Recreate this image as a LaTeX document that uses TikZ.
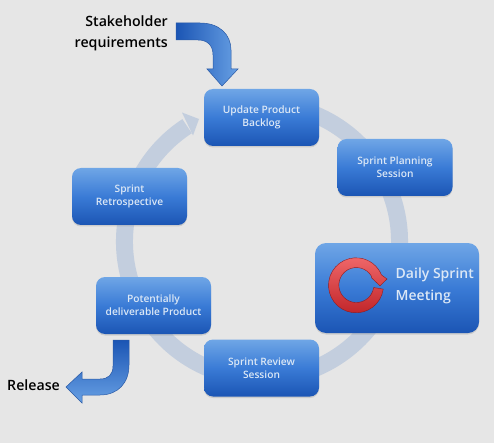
\documentclass[tikz,border=0pt]{standalone}
\usepackage{fontspec}
\setmainfont{Open Sans}
\newfontfamily\medfont{Open Sans}[UprightFont=* Semibold]
\usetikzlibrary{shadows}
\definecolor{bg}{HTML}{E6E6E6}
\definecolor{ringc}{HTML}{C3CEDE}
\definecolor{boxtop}{HTML}{6FA6E6}
\definecolor{boxmid}{HTML}{3A7BD6}
\definecolor{boxbot}{HTML}{1B55B4}
\definecolor{boxtext}{HTML}{DCE8F6}
\definecolor{arrowline}{HTML}{2A5AA6}
\definecolor{redtop}{HTML}{F0686A}
\definecolor{redmid}{HTML}{E0383C}
\definecolor{redbot}{HTML}{C02428}
\tikzset{
  sprintbox/.style={rounded corners=9pt, top color=boxtop, bottom color=boxbot, middle color=boxmid, draw=none,
    text=boxtext, align=center, inner sep=0pt, font=\fontsize{10.2}{13.2}\medfont,
    drop shadow={shadow xshift=0pt, shadow yshift=-1.5pt, opacity=.25}},
  smallbox/.style={sprintbox, minimum width=115pt, minimum height=57pt},
  caption/.style={text=black, align=right, inner sep=0pt, font=\fontsize{14.2}{21}\medfont},
  blockarrow/.style={draw=arrowline, line width=.5pt, line join=miter},
}
\begin{document}
\begin{tikzpicture}[x=1pt,y=-1pt]
\useasboundingbox (0,0) rectangle (494,443);
\fill[bg] (0,0) rectangle (494,443);
\coordinate (ringcentre) at (262,241.5);
% ring with arrowhead
\draw[ringc, line width=17pt] (ringcentre) ++(-75:137.5) arc[start angle=-75, end angle=237, radius=137.5];
\fill[ringc] (182,112.5) -- (199,119) -- (193,135.5) -- cycle;
% boxes
\node[smallbox] (update) at (261.5,117.5) {Update Product\\Backlog};
\node[smallbox] (planning) at (395,167.5) {Sprint Planning\\Session};
\node[sprintbox, minimum width=164pt, minimum height=90pt, rounded corners=11pt] (daily) at (397,288) {};
\node[smallbox] (review) at (261.5,368) {Sprint Review\\Session};
\node[smallbox] (product) at (153.5,305.5) {Potentially\\deliverable Product};
\node[smallbox] (retro) at (129.5,196.5) {Sprint\\Retrospective};
\node[text=boxtext, align=left, inner sep=0pt, anchor=west, font=\fontsize{14}{21.5}\medfont] (dailytext) at (395.5,286) {Daily Sprint\\Meeting};
% red cycle arrow
\shade[draw=redbot!75!black, line width=.4pt, top color=redtop, middle color=redmid, bottom color=redbot]
 (356,285.3) ++(8:27.5) arc[start angle=8, end angle=338, radius=27.5]
 -- (387,279) -- (380,285.8) -- (371.7,278)
 -- (371.5,276.3) arc[start angle=330, end angle=8, radius=17.5] -- cycle;
% block arrows
\node[caption, anchor=east] (stake) at (168,33) {Stakeholder\\requirements};
\shade[blockarrow, left color=boxbot, right color=boxtop!85!boxmid]
 (176,23) -- (200,23) .. controls (220,23) and (231,35) .. (231,50) -- (231,69) -- (238,69) -- (222,86) -- (207,69) -- (213,69) -- (213,55) .. controls (213,45) and (207,40) .. (198,40) -- (176,40) -- cycle;
\node[caption, anchor=west] (release) at (7,385) {Release};
\shade[blockarrow, top color=boxbot, bottom color=boxtop!85!boxmid]
 (113,340) -- (129,340) -- (129,365) .. controls (129,383) and (118,395) .. (100,395) -- (82,395) -- (82,403) -- (66,387) -- (82,372) -- (82,379) -- (100,379) .. controls (108,379) and (113,375) .. (113,366) -- cycle;
\end{tikzpicture}
\end{document}
